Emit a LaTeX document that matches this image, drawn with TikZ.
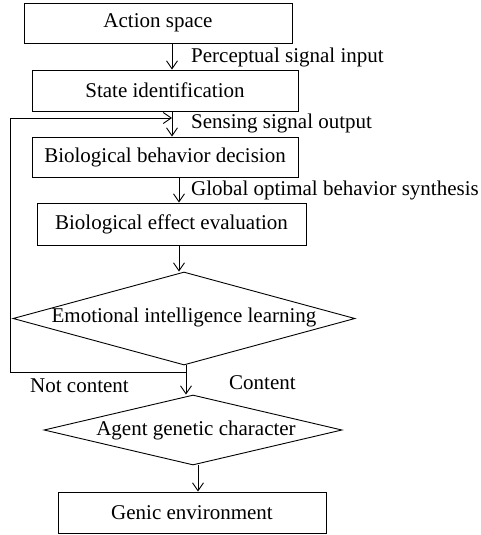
\documentclass[tikz,border=0pt]{standalone}
\usepackage{fontspec}
\setmainfont{Liberation Serif}
\usetikzlibrary{arrows.meta,shapes.geometric}

\begin{document}
\begin{tikzpicture}[x=1pt,y=-1pt]
% y is set to negative, positions read off in pixels from the top

% style
\tikzset{
    every node/.style={font=\fontsize{21}{25}\selectfont},
    baseLine/.style={draw, line width=0.9pt},
    arrowLine/.style={baseLine, ->, >={Straight Barb[length=8pt, width=11pt]}},
    boxNode/.style={baseLine, rectangle, inner sep=0pt},
    decisionNode/.style={baseLine, diamond, inner sep=0pt},
    labelText/.style={anchor=base west, inner sep=0pt}
}

\useasboundingbox (0,0) rectangle (480,535);

% boxes
\node[boxNode, minimum width=268pt, minimum height=40pt] (actionSpace) at (158,23) {Action space};
\node[boxNode, minimum width=266pt, minimum height=41pt] (stateId) at (165,90.5) {State identification};
\node[boxNode, minimum width=266pt, minimum height=40pt] (behaviorDecision) at (165,157) {Biological behavior decision};
\node[boxNode, minimum width=269pt, minimum height=42pt] (effectEval) at (171.5,224) {Biological effect evaluation};
\node[boxNode, minimum width=268pt, minimum height=41pt] (genicEnv) at (192,512.5) {Genic environment};

% diamonds
\node[decisionNode, minimum width=342pt, minimum height=93pt] (emotionLearning) at (184,318.5) {};
\node (emotionText) at (184,317) {Emotional intelligence learning};
\node[decisionNode, minimum width=298pt, minimum height=70pt] (agentCharacter) at (193,430) {};
\node (agentText) at (196,430) {Agent genetic character};

% columns of the arrows
\coordinate (colA) at (172,0);
\coordinate (colB) at (179,0);
\coordinate (colC) at (186,0);
\coordinate (colD) at (198,0);

% arrows
\draw[arrowLine] (actionSpace.south -| colA) -- (stateId.north -| colA);
\draw[arrowLine] (stateId.south -| colA) -- (behaviorDecision.north -| colA);
\draw[arrowLine] (behaviorDecision.south -| colB) -- (effectEval.north -| colB);
\draw[arrowLine] (effectEval.south -| colB) -- (emotionLearning.north -| colB);
\draw[arrowLine] (emotionLearning.south -| colC) -- (agentCharacter.north -| colC);
\draw[arrowLine] (agentCharacter.south -| colD) -- (genicEnv.north -| colD);

% feedback loop
\coordinate (loopStart) at (186,372);
\coordinate (loopCorner) at (10,118);
\coordinate (loopEnd) at (172,118);
\draw[arrowLine] (loopStart) -| (loopCorner) -- (loopEnd);

% labels
\node[labelText] (perceptualLabel) at (191,63) {Perceptual signal input};
\node[labelText] (sensingLabel) at (191,128) {Sensing signal output};
\node[labelText] (globalLabel) at (191,195) {Global optimal behavior synthesis};
\node[labelText] (notContentLabel) at (30,392) {Not content};
\node[labelText] (contentLabel) at (229,389) {Content};

\end{tikzpicture}
\end{document}
